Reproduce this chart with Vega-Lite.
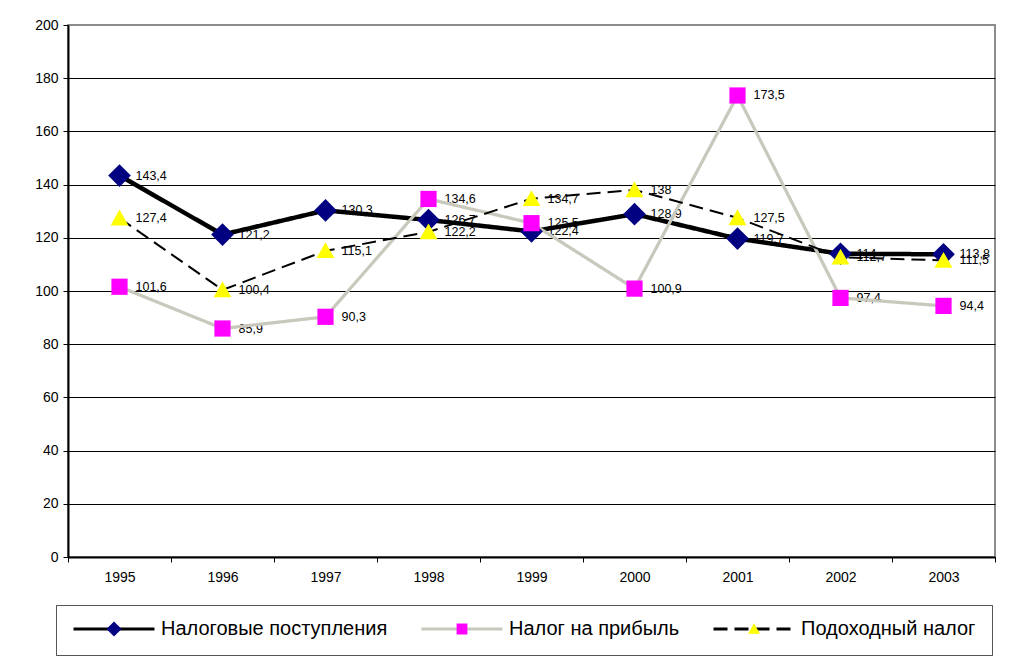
{
  "$schema": "https://vega.github.io/schema/vega-lite/v6.json",
  "width": 927,
  "height": 532,
  "autosize": {"type": "none"},
  "padding": {"left": 68, "top": 25, "right": 30, "bottom": 102},
  "background": "white",
  "config": {
    "font": "Liberation Sans",
    "locale": {"number": {"decimal": ",", "thousands": " ", "grouping": [3], "currency": ["", ""]}},
    "view": {"stroke": "#8c8c8c", "strokeWidth": 2},
    "axis": {"labelFontSize": 14, "labelColor": "black", "labelFont": "Liberation Sans"}
  },
  "data": {
    "values": [
      {"year": "1995", "series": "Налоговые поступления", "value": 143.4},
      {"year": "1996", "series": "Налоговые поступления", "value": 121.2},
      {"year": "1997", "series": "Налоговые поступления", "value": 130.3},
      {"year": "1998", "series": "Налоговые поступления", "value": 126.7},
      {"year": "1999", "series": "Налоговые поступления", "value": 122.4},
      {"year": "2000", "series": "Налоговые поступления", "value": 128.9},
      {"year": "2001", "series": "Налоговые поступления", "value": 119.7},
      {"year": "2002", "series": "Налоговые поступления", "value": 114},
      {"year": "2003", "series": "Налоговые поступления", "value": 113.8},
      {"year": "1995", "series": "Налог на прибыль", "value": 101.6},
      {"year": "1996", "series": "Налог на прибыль", "value": 85.9},
      {"year": "1997", "series": "Налог на прибыль", "value": 90.3},
      {"year": "1998", "series": "Налог на прибыль", "value": 134.6},
      {"year": "1999", "series": "Налог на прибыль", "value": 125.5},
      {"year": "2000", "series": "Налог на прибыль", "value": 100.9},
      {"year": "2001", "series": "Налог на прибыль", "value": 173.5},
      {"year": "2002", "series": "Налог на прибыль", "value": 97.4},
      {"year": "2003", "series": "Налог на прибыль", "value": 94.4},
      {"year": "1995", "series": "Подоходный налог", "value": 127.4},
      {"year": "1996", "series": "Подоходный налог", "value": 100.4},
      {"year": "1997", "series": "Подоходный налог", "value": 115.1},
      {"year": "1998", "series": "Подоходный налог", "value": 122.2},
      {"year": "1999", "series": "Подоходный налог", "value": 134.7},
      {"year": "2000", "series": "Подоходный налог", "value": 138},
      {"year": "2001", "series": "Подоходный налог", "value": 127.5},
      {"year": "2002", "series": "Подоходный налог", "value": 112.7},
      {"year": "2003", "series": "Подоходный налог", "value": 111.5}
    ]
  },
  "encoding": {
    "x": {
      "field": "year", "type": "ordinal",
      "scale": {"type": "band", "paddingInner": 0, "paddingOuter": 0},
      "axis": {"title": null, "labelAngle": 0, "tickBand": "extent", "tickSize": 5, "tickColor": "black", "domainColor": "black", "domainWidth": 2, "labelFontSize": 14, "labelColor": "black", "labelPadding": 8, "grid": false}
    },
    "y": {
      "field": "value", "type": "quantitative",
      "scale": {"domain": [0, 200], "nice": false},
      "axis": {"title": null, "values": [0, 20, 40, 60, 80, 100, 120, 140, 160, 180, 200], "tickSize": 5, "tickColor": "black", "domainColor": "black", "domainWidth": 2, "grid": true, "gridColor": {"condition": {"test": "datum.value === 200", "value": "#8c8c8c"}, "value": "black"}, "gridWidth": 1, "labelFontSize": 14, "labelColor": "black", "labelPadding": 5}
    }
  },
  "layer": [
    {
      "mark": {"type": "text", "align": "left", "baseline": "middle", "dx": 16, "fontSize": 12.5, "color": "black"},
      "encoding": {"text": {"field": "value", "type": "quantitative", "format": ".1~f"}}
    },
    {
      "mark": {"type": "line", "opacity": 1},
      "encoding": {
        "stroke": {
          "field": "series", "type": "nominal",
          "sort": ["Налоговые поступления", "Налог на прибыль", "Подоходный налог"],
          "scale": {"range": ["#000000", "#c8c8bc", "#000000"]},
          "legend": {"orient": "none", "legendX": -12, "legendY": 580, "direction": "horizontal", "title": null, "symbolType": "stroke", "symbolSize": 6561, "symbolStrokeWidth": 3, "symbolOpacity": 1, "clipHeight": 16, "labelFontSize": 20, "labelFont": "Liberation Sans", "labelColor": "black", "labelOffset": 5, "columnPadding": 32, "padding": 16, "strokeColor": "#555555", "fillColor": "white", "labelLimit": 400,
            "encode": {"symbols": {"update": {"stroke": {"scale": "stroke", "field": "value"}, "opacity": {"value": 1}, "strokeOpacity": {"value": 1}}}}}
        },
        "strokeDash": {
          "field": "series", "type": "nominal",
          "sort": ["Налоговые поступления", "Налог на прибыль", "Подоходный налог"],
          "scale": {"range": [[1, 0], [1, 0], [14, 7]]},
          "legend": {"orient": "none", "legendX": -12, "legendY": 580, "direction": "horizontal", "title": null, "symbolType": "stroke", "symbolSize": 6561, "symbolStrokeWidth": 3, "symbolOpacity": 1, "clipHeight": 16, "labelFontSize": 20, "labelFont": "Liberation Sans", "labelColor": "black", "labelOffset": 5, "columnPadding": 32, "padding": 16, "strokeColor": "#555555", "fillColor": "white", "labelLimit": 400,
            "encode": {"symbols": {"update": {"stroke": {"scale": "stroke", "field": "value"}, "opacity": {"value": 1}, "strokeOpacity": {"value": 1}}}}}
        },
        "strokeWidth": {
          "field": "series", "type": "ordinal",
          "sort": ["Налоговые поступления", "Налог на прибыль", "Подоходный налог"],
          "scale": {"range": [4.5, 2, 2.5]},
          "legend": null
        }
      }
    },
    {
      "mark": {"type": "point", "filled": true, "size": 6561, "opacity": 1, "strokeWidth": 0},
      "encoding": {
        "shape": {
          "field": "series", "type": "nominal",
          "scale": {"domain": ["Налоговые поступления", "Налог на прибыль", "Подоходный налог"], "range": ["M0,-0.28L0.28,0L0,0.28L-0.28,0Z", "M-0.2,-0.2L0.2,-0.2L0.2,0.2L-0.2,0.2Z", "M0,-0.21L0.22,0.18L-0.22,0.18Z"]},
          "legend": {"orient": "none", "legendX": -12, "legendY": 580, "direction": "horizontal", "title": null, "symbolSize": 2916, "symbolStrokeWidth": 30, "symbolStrokeColor": "transparent", "symbolOpacity": 1, "clipHeight": 16, "labelFontSize": 20, "labelFont": "Liberation Sans", "labelColor": "black", "labelOpacity": 0, "labelOffset": 5, "columnPadding": 32, "padding": 16, "labelLimit": 400}
        },
        "fill": {
          "field": "series", "type": "nominal",
          "scale": {"domain": ["Налоговые поступления", "Налог на прибыль", "Подоходный налог"], "range": ["#000080", "#ff00ff", "#ffff00"]},
          "legend": {"orient": "none", "legendX": -12, "legendY": 580, "direction": "horizontal", "title": null, "symbolSize": 2916, "symbolStrokeWidth": 30, "symbolStrokeColor": "transparent", "symbolOpacity": 1, "clipHeight": 16, "labelFontSize": 20, "labelFont": "Liberation Sans", "labelColor": "black", "labelOpacity": 0, "labelOffset": 5, "columnPadding": 32, "padding": 16, "labelLimit": 400}
        }
      }
    }
  ]
}
